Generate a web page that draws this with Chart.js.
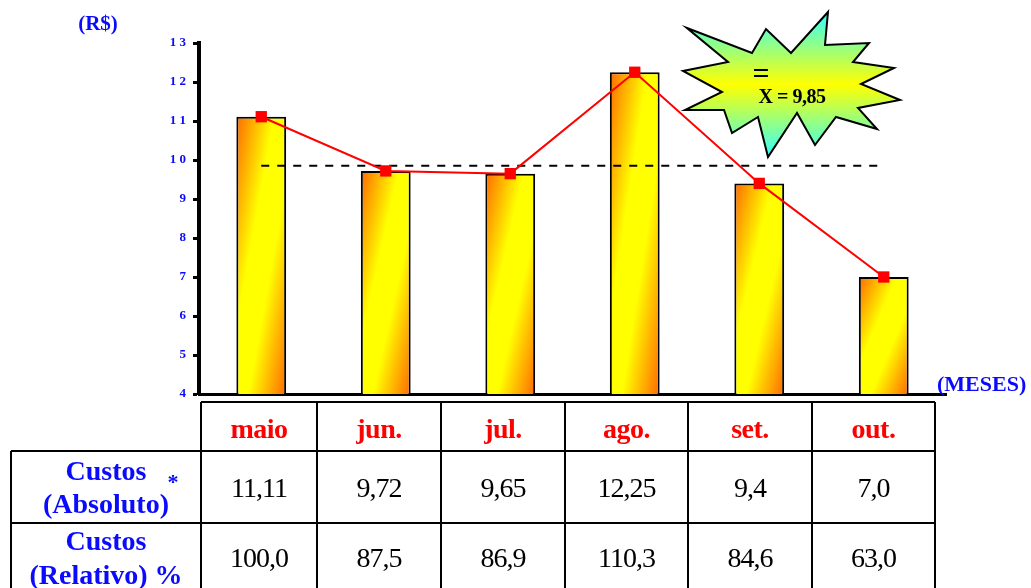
<!DOCTYPE html>
<html>
<head>
<meta charset="utf-8">
<script src="https://cdn.jsdelivr.net/npm/chart.js@4.4.1/dist/chart.umd.min.js"></script>
<style>
  html, body { margin: 0; padding: 0; background: #fff; }
  canvas { display: block; }
</style>
</head>
<body>
<canvas id="custosChart" width="1031" height="588"></canvas>
<script>
// Custos mensais (R$) e relativos (%)
const meses = ['maio', 'jun.', 'jul.', 'ago.', 'set.', 'out.'];
const custosAbsTxt = ['11,11', '9,72', '9,65', '12,25', '9,4', '7,0'];
const custosRelTxt = ['100,0', '87,5', '86,9', '110,3', '84,6', '63,0'];
const mediaTxt = '9,85';

const toNum = s => parseFloat(s.replace(',', '.'));
const custosAbs = custosAbsTxt.map(toNum);
const media = toNum(mediaTxt);
const linhaMedia = meses.map(() => media);

const Y_MIN = 4, Y_MAX = 13;
const BAR_PCT = 0.4;
const SERIF = '"Liberation Serif", "Times New Roman", serif';
const AZUL = '#0a0aff';

// degradê diagonal laranja -> amarelo -> laranja em cada barra
function degradeBarra(c) {
    const chart = c.chart;
    const xs = chart.scales.x, ys = chart.scales.y;
    if (!chart.chartArea || !xs || !ys) return '#ffff00';
    const cx = xs.getPixelForValue(c.dataIndex);
    const w = xs.width / meses.length * BAR_PCT;
    const top = ys.getPixelForValue(custosAbs[c.dataIndex]);
    const h = ys.bottom - top;
    const x0 = cx - w / 2;
    const k = 2 * w * h / (w * w + h * h);
    const g = chart.ctx.createLinearGradient(x0, top, x0 + k * h, top + k * w);
    g.addColorStop(0, '#ff6a00');
    g.addColorStop(0.38, '#ffff00');
    g.addColorStop(0.62, '#ffff00');
    g.addColorStop(1, '#ff6a00');
    return g;
}

// explosão com a média
const estrela = [
    [687, 28], [752, 53], [766, 29], [791, 53], [828, 12], [825, 45],
    [869, 43], [853, 62], [894, 68], [861, 84], [900, 100], [858, 108],
    [877, 129], [836, 117], [815, 145], [797, 113], [768, 157], [758, 117],
    [732, 133], [724, 110], [685, 110], [722, 92], [683, 71], [728, 62]
];

const extras = {
    id: 'extras',
    afterDraw(chart) {
        const ctx = chart.ctx;
        ctx.save();

        // rótulos dos eixos
        ctx.fillStyle = AZUL;
        ctx.font = 'bold 21px ' + SERIF;
        ctx.textAlign = 'center';
        ctx.textBaseline = 'alphabetic';
        ctx.fillText('(R$)', 98, 30);
        ctx.textAlign = 'left';
        ctx.font = 'bold 22px ' + SERIF;
        ctx.fillText('(MESES)', 937, 391);

        // estrela
        ctx.beginPath();
        estrela.forEach(([x, y], i) => i ? ctx.lineTo(x, y) : ctx.moveTo(x, y));
        ctx.closePath();
        const gs = ctx.createLinearGradient(0, 12, 0, 157);
        gs.addColorStop(0, '#33ffff');
        gs.addColorStop(0.5, '#ffff00');
        gs.addColorStop(1, '#33ffff');
        ctx.fillStyle = gs;
        ctx.fill();
        ctx.lineWidth = 2;
        ctx.strokeStyle = '#000';
        ctx.lineJoin = 'miter';
        ctx.stroke();
        ctx.fillStyle = '#000';
        ctx.textAlign = 'center';
        ctx.font = 'bold 30px ' + SERIF;
        ctx.fillText('=', 761, 83);
        ctx.font = 'bold 20px ' + SERIF;
        ctx.letterSpacing = '-0.5px';
        ctx.fillText('X = ' + mediaTxt, 792, 103);
        ctx.letterSpacing = '0px';

        // tabela
        const cols = [201, 317, 441, 565, 688, 812, 935];
        const H = chart.height;
        ctx.strokeStyle = '#000';
        ctx.lineWidth = 2;
        ctx.beginPath();
        ctx.moveTo(201, 402); ctx.lineTo(935, 402);
        ctx.moveTo(11, 451); ctx.lineTo(935, 451);
        ctx.moveTo(11, 523); ctx.lineTo(935, 523);
        ctx.moveTo(11, 451); ctx.lineTo(11, H);
        cols.forEach(x => { ctx.moveTo(x, 402); ctx.lineTo(x, H); });
        ctx.stroke();

        ctx.textAlign = 'center';
        meses.forEach((m, i) => {
            const cx = (cols[i] + cols[i + 1]) / 2;
            ctx.fillStyle = '#ff0000';
            ctx.font = 'bold 28px ' + SERIF;
            ctx.letterSpacing = '-0.5px';
            ctx.fillText(m, cx, 438);
            ctx.fillStyle = '#000';
            ctx.font = '28px ' + SERIF;
            ctx.letterSpacing = '-1px';
            ctx.fillText(custosAbsTxt[i], cx, 497);
            ctx.fillText(custosRelTxt[i], cx, 567);
        });
        ctx.letterSpacing = '0px';

        ctx.fillStyle = AZUL;
        ctx.font = 'bold 28px ' + SERIF;
        ctx.fillText('Custos', 106, 480);
        ctx.fillText('(Absoluto)', 106, 513);
        ctx.fillText('Custos', 106, 550);
        ctx.fillText('(Relativo) %', 106, 584);
        ctx.font = 'bold 22px ' + SERIF;
        ctx.fillText('*', 173, 489);

        ctx.restore();
    }
};

new Chart(document.getElementById('custosChart'), {
    data: {
        labels: meses,
        datasets: [
            {
                type: 'line',
                label: 'Custos',
                data: custosAbs,
                borderColor: '#ff0000',
                borderWidth: 2,
                backgroundColor: '#ff0000',
                pointStyle: 'rect',
                pointRadius: 8,
                pointBorderWidth: 0,
                tension: 0,
                order: 1
            },
            {
                type: 'line',
                label: 'Média',
                data: linhaMedia,
                borderColor: '#000',
                borderWidth: 2,
                borderDash: [8, 8],
                pointRadius: 0,
                order: 2
            },
            {
                type: 'bar',
                label: 'Custos (R$)',
                data: custosAbs,
                backgroundColor: degradeBarra,
                borderColor: '#000',
                borderWidth: 2,
                borderSkipped: false,
                categoryPercentage: 1,
                barPercentage: BAR_PCT,
                order: 3
            }
        ]
    },
    options: {
        responsive: false,
        animation: false,
        devicePixelRatio: 1,
        layout: { padding: { left: 139, right: 85, top: 43, bottom: 194 } },
        plugins: { legend: { display: false }, tooltip: { enabled: false } },
        scales: {
            x: {
                grid: { display: false },
                ticks: { display: false },
                border: { display: true, color: '#000', width: 3 },
                afterFit: s => { s.height = 0; }
            },
            y: {
                min: Y_MIN,
                max: Y_MAX,
                afterFit: s => { s.width = 60; },
                ticks: {
                    stepSize: 1,
                    padding: 7,
                    color: AZUL,
                    font: { family: SERIF, size: 13, weight: 'bold' },
                    callback: v => String(v).split('').join(' ')
                },
                grid: {
                    drawOnChartArea: false,
                    tickLength: 6,
                    tickWidth: 3,
                    tickColor: '#000'
                },
                border: { display: true, color: '#000', width: 4 }
            }
        }
    },
    plugins: [extras]
});
</script>
</body>
</html>
